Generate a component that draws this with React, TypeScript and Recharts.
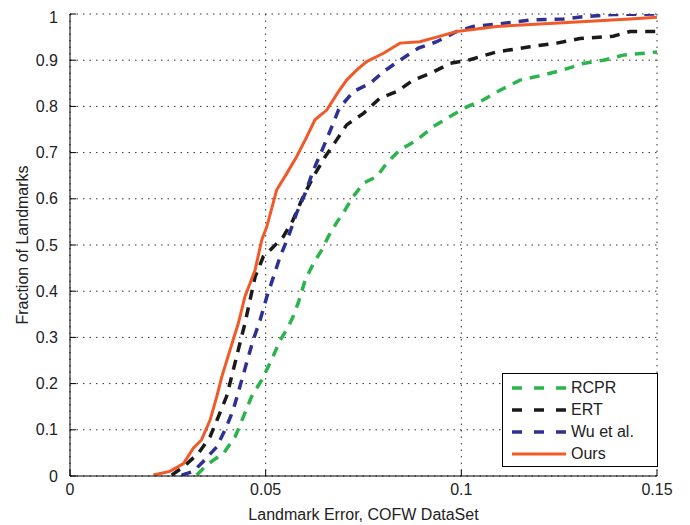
import React from 'react';
import { LineChart, Line, XAxis, YAxis, CartesianGrid, Label } from 'recharts';

// --- Curve data (landmark error vs cumulative fraction) ---
const rcprX = [0.0324, 0.0349, 0.0392, 0.0422, 0.0443, 0.0464, 0.049, 0.0515, 0.0537, 0.0558, 0.057, 0.0583, 0.0601, 0.0622, 0.0643, 0.066, 0.0681, 0.0703, 0.0724, 0.075, 0.0784, 0.0809, 0.0843, 0.0886, 0.0928, 0.0971, 0.1014, 0.1056, 0.1099, 0.115, 0.121, 0.126, 0.1311, 0.1363, 0.1414, 0.148, 0.15];
const rcprY = [0.002, 0.024, 0.049, 0.085, 0.128, 0.172, 0.208, 0.251, 0.294, 0.323, 0.345, 0.374, 0.424, 0.46, 0.489, 0.518, 0.548, 0.576, 0.605, 0.634, 0.648, 0.677, 0.706, 0.727, 0.756, 0.778, 0.799, 0.814, 0.835, 0.857, 0.868, 0.879, 0.893, 0.9, 0.911, 0.916, 0.918];

const ertX = [0.026, 0.029, 0.0328, 0.0358, 0.0379, 0.04, 0.0413, 0.043, 0.0447, 0.046, 0.0473, 0.0494, 0.052, 0.0545, 0.057, 0.0596, 0.0622, 0.0652, 0.0681, 0.0707, 0.075, 0.0792, 0.0835, 0.0877, 0.092, 0.0971, 0.1022, 0.109, 0.1175, 0.1244, 0.1303, 0.1388, 0.1431, 0.15];
const ertY = [0.002, 0.02, 0.049, 0.085, 0.128, 0.172, 0.215, 0.273, 0.33, 0.381, 0.431, 0.475, 0.496, 0.518, 0.554, 0.605, 0.648, 0.691, 0.727, 0.76, 0.785, 0.818, 0.832, 0.857, 0.871, 0.893, 0.901, 0.918, 0.929, 0.937, 0.947, 0.952, 0.962, 0.962];

const wuX = [0.0285, 0.0315, 0.034, 0.0375, 0.04, 0.0417, 0.0434, 0.0451, 0.0468, 0.0486, 0.0503, 0.052, 0.0537, 0.0558, 0.0579, 0.0601, 0.0622, 0.0648, 0.0669, 0.0686, 0.0699, 0.0724, 0.0767, 0.0801, 0.0843, 0.089, 0.0937, 0.0988, 0.103, 0.109, 0.1175, 0.126, 0.1311, 0.1388, 0.15];
const wuY = [0.002, 0.01, 0.031, 0.063, 0.107, 0.143, 0.193, 0.244, 0.294, 0.338, 0.388, 0.431, 0.475, 0.518, 0.569, 0.612, 0.662, 0.713, 0.756, 0.792, 0.807, 0.832, 0.85, 0.875, 0.9, 0.926, 0.94, 0.962, 0.973, 0.978, 0.987, 0.989, 0.994, 0.999, 1.0];

const oursX = [0.0213, 0.0255, 0.029, 0.0315, 0.0336, 0.0358, 0.0375, 0.0388, 0.0409, 0.043, 0.0447, 0.0473, 0.049, 0.0503, 0.0528, 0.0554, 0.0579, 0.0605, 0.0626, 0.0656, 0.0686, 0.0707, 0.0733, 0.0758, 0.0801, 0.0843, 0.0894, 0.0937, 0.0988, 0.109, 0.126, 0.1431, 0.15];
const oursY = [0.002, 0.01, 0.027, 0.06, 0.078, 0.121, 0.172, 0.215, 0.273, 0.33, 0.388, 0.446, 0.511, 0.54, 0.619, 0.655, 0.691, 0.734, 0.771, 0.792, 0.832, 0.857, 0.879, 0.897, 0.915, 0.937, 0.94, 0.95, 0.962, 0.973, 0.981, 0.989, 0.993];

const xTicks = [0, 0.05, 0.1, 0.15];
const yTicks = [0, 0.1, 0.2, 0.3, 0.4, 0.5, 0.6, 0.7, 0.8, 0.9, 1];

const zip = (xs: number[], ys: number[]) => xs.map((x, i) => ({ x, y: ys[i] }));

const series = [
  { name: 'RCPR', data: zip(rcprX, rcprY), color: '#2BB44B', dash: '10 8', width: 3.5 },
  { name: 'ERT', data: zip(ertX, ertY), color: '#1A1A1A', dash: '10 8', width: 3.5 },
  { name: 'Wu et al.', data: zip(wuX, wuY), color: '#2E3192', dash: '10 8', width: 3.5 },
  { name: 'Ours', data: zip(oursX, oursY), color: '#F05A28', dash: undefined, width: 3 },
];

const font = '"Liberation Sans", Arial, sans-serif';

const fmtX = (v: number) => (v === 0 ? '0' : String(v));
const fmtY = (v: number) => (v === 0 ? '0' : v === 1 ? '1' : v.toFixed(1));

// legend drawn as an overlay so it doesn't eat into the plot area
const LegendBox = () => (
  <div
    style={{
      position: 'absolute',
      left: 494,
      top: 365,
      width: 156,
      height: 94,
      border: '1px solid #000',
      background: '#fff',
      fontFamily: font,
      fontSize: 16,
      color: '#222',
      boxSizing: 'border-box',
      padding: '3px 0 0 9px',
    }}
  >
    {series.map((s) => (
      <div key={s.name} style={{ display: 'flex', alignItems: 'center', height: 22 }}>
        <svg width={56} height={8}>
          <line x1={0} y1={4} x2={54} y2={4} stroke={s.color} strokeWidth={s.width} strokeDasharray={s.dash ? '10 12' : undefined} />
        </svg>
        <span style={{ marginLeft: 3 }}>{s.name}</span>
      </div>
    ))}
  </div>
);

export default function App() {
  return (
    <div style={{ position: 'relative', width: 682, height: 517, background: '#fff' }}>
      <LineChart width={682} height={517} margin={{ top: 6, right: 33, bottom: 0, left: 0 }}>
        <CartesianGrid stroke="#333" strokeDasharray="1.5 5" strokeWidth={1} />
        <XAxis
          type="number"
          dataKey="x"
          domain={[0, 0.15]}
          ticks={xTicks}
          tickFormatter={fmtX}
          height={49}
          tickSize={-6}
          tickMargin={14}
          stroke="#000"
          allowDataOverflow
          tick={{ fill: '#222', fontSize: 16, fontFamily: font }}
        >
          <Label value="Landmark Error, COFW DataSet" position="insideBottom" offset={5} style={{ fill: '#222', fontSize: 16, fontFamily: font }} />
        </XAxis>
        <YAxis
          type="number"
          dataKey="y"
          domain={[0, 1]}
          ticks={yTicks}
          tickFormatter={fmtY}
          width={62}
          tickSize={-6}
          tickMargin={18}
          stroke="#000"
          allowDataOverflow
          tick={{ fill: '#222', fontSize: 16, fontFamily: font }}
        >
          <Label value="Fraction of Landmarks" angle={-90} position="insideLeft" offset={14} style={{ fill: '#222', fontSize: 16, fontFamily: font, textAnchor: 'middle' }} />
        </YAxis>
        {series.map((s) => (
          <Line
            key={s.name}
            data={s.data}
            dataKey="y"
            name={s.name}
            type="linear"
            stroke={s.color}
            strokeWidth={s.width}
            strokeDasharray={s.dash}
            dot={false}
            isAnimationActive={false}
          />
        ))}
      </LineChart>
      <LegendBox />
    </div>
  );
}
